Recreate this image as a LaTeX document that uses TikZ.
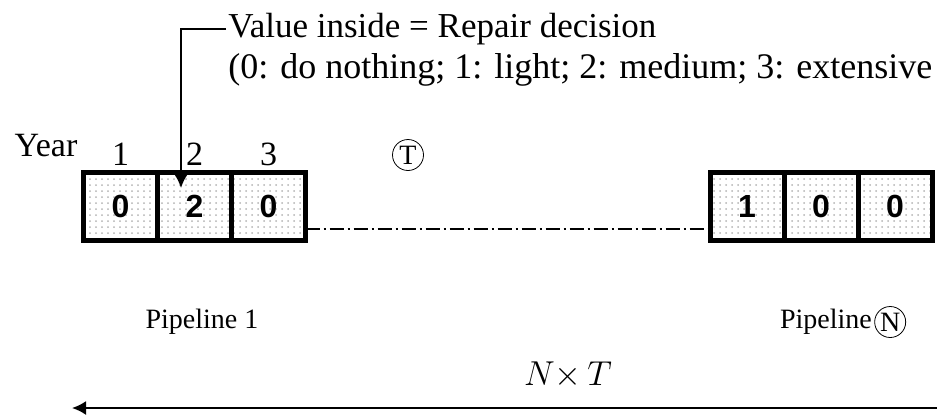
\documentclass[tikz,border=0pt]{standalone}
\usepackage{fontspec}
\setmainfont{Liberation Serif}
\setsansfont{Liberation Sans}
\usetikzlibrary{
	arrows.meta,
	positioning,
	patterns
}

\begin{document}
\begin{tikzpicture}[
		x=0.5pt, y=-0.5pt,
		>={Latex[length=7pt,width=7pt]},
		cell/.style={
			draw,
			line width=2.5pt,
			pattern=dots,
			pattern color=gray!60,
			minimum width=37pt,
			minimum height=34pt,
			outer sep=0pt,
			font=\sffamily\bfseries\fontsize{16}{18}\selectfont
		},
		yearnum/.style={
			font=\fontsize{17}{19}\selectfont,
			inner sep=1pt
		},
		note/.style={
			anchor=west,
			inner sep=1pt,
			font=\fontsize{17.5}{19}\selectfont
		},
		label/.style={
			inner sep=1pt,
			font=\fontsize{14}{16}\selectfont
		},
		tag/.style={
			circle,
			draw,
			thin,
			minimum size=15.5pt,
			inner sep=0pt,
			font=\fontsize{14}{16}\selectfont
		}
		]
		
		\useasboundingbox (0,0) rectangle (937,419);
		
		% Pipeline 1
		\node[cell] (c1) at (120.5,206) {0};
		\node[cell, right=0pt of c1] (c2) {2};
		\node[cell, right=0pt of c2] (c3) {0};
		
		% Pipeline N
		\node[cell] (d1) at (747,206) {1};
		\node[cell, right=0pt of d1] (d2) {0};
		\node[cell, right=0pt of d2] (d3) {0};
		
		% Years
		\node[yearnum, above=2pt of c1] (y1) {1};
		\node[yearnum, above=2pt of c2] (y2) {2};
		\node[yearnum, above=2pt of c3] (y3) {3};
		\node[yearnum] (yearlab) at (46,146) {Year};
		\node[tag] (tagT) at (408,155) {T};
		
		% Gap
		\draw[line width=1pt, dash pattern=on 7pt off 2pt on 1pt off 2pt]
		([yshift=5.5pt]c3.south east) -- ([yshift=5.5pt]d1.south west);
		
		% Annotation
		\node[note] (note) at (226,29) {Value inside = Repair decision};
		\node[note, font=\fontsize{18}{20}\selectfont] (legend) at (226,70) {(0: do nothing; 1: light; 2: medium; 3: extensive};
		\coordinate (tip) at (181,188);
		\draw[->, line width=1pt] (note.west) -| (tip);
		
		% Labels
		\node[label] (pipe1) at (202,322) {Pipeline 1};
		\node[label] (pipeN) at (826,322) {Pipeline};
		\node[tag, right=0pt of pipeN] (tagN) {N};
		
		% Span
		\node[font=\fontsize{16}{18}\selectfont] (span) at (568,375) {$N{\times}\,T$};
		\coordinate (spanL) at (72,408);
		\coordinate (spanR) at (937,408);
		\draw[<-, line width=1pt] (spanL) -- (spanR);
		
	\end{tikzpicture}
\end{document}
